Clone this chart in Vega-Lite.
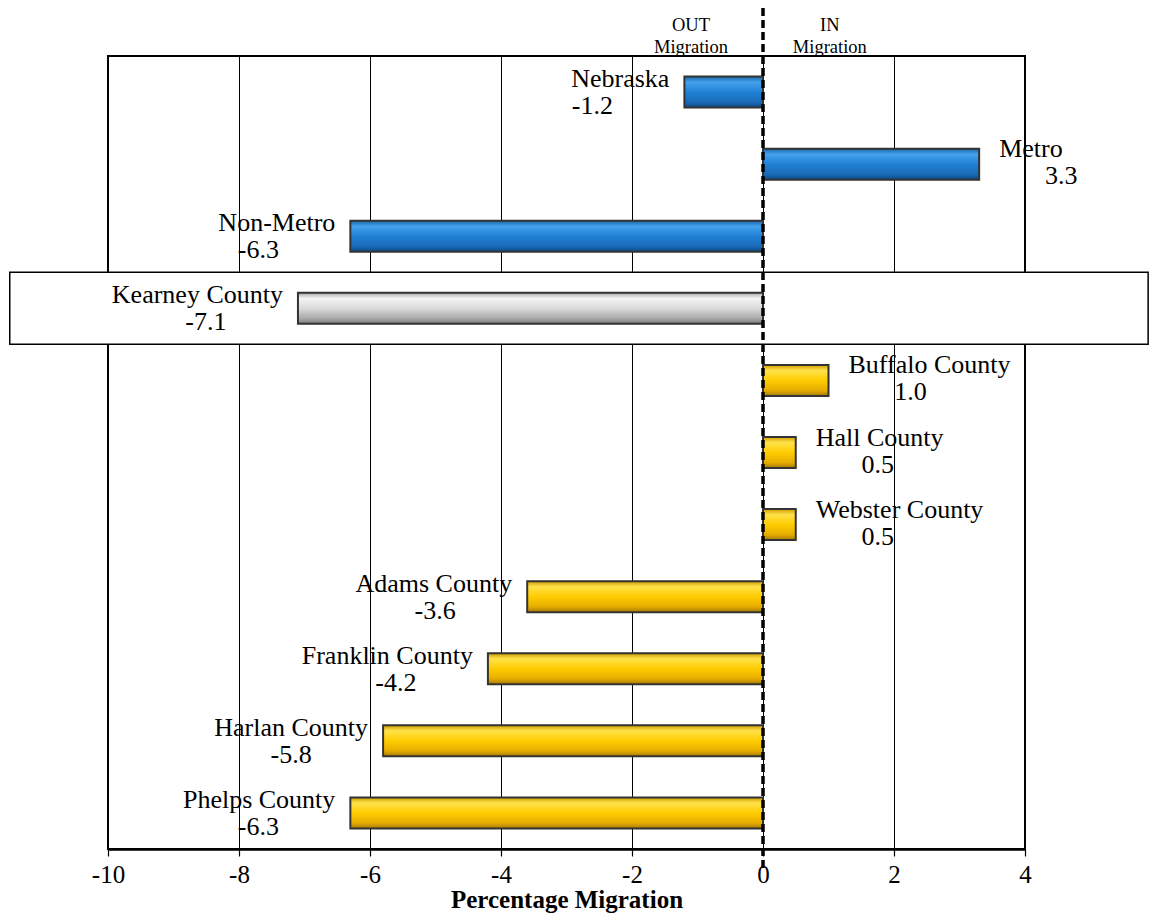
{
  "$schema": "https://vega.github.io/schema/vega-lite/v6.json",
  "width": 917,
  "height": 793,
  "autosize": {"type": "none"},
  "padding": {"left": 108, "top": 56, "right": 124, "bottom": 72},
  "background": "white",
  "config": {
    "view": {"stroke": "black", "strokeWidth": 2},
    "font": "Liberation Serif"
  },
  "data": {
    "values": [
      {"name": "Nebraska", "value": -1.2, "label": "-1.2", "group": "state"},
      {"name": "Metro", "value": 3.3, "label": "3.3", "group": "state"},
      {"name": "Non-Metro", "value": -6.3, "label": "-6.3", "group": "state"},
      {"name": "Kearney County", "value": -7.1, "label": "-7.1", "group": "focus"},
      {"name": "Buffalo County", "value": 1.0, "label": "1.0", "group": "county"},
      {"name": "Hall County", "value": 0.5, "label": "0.5", "group": "county"},
      {"name": "Webster County", "value": 0.5, "label": "0.5", "group": "county"},
      {"name": "Adams County", "value": -3.6, "label": "-3.6", "group": "county"},
      {"name": "Franklin County", "value": -4.2, "label": "-4.2", "group": "county"},
      {"name": "Harlan County", "value": -5.8, "label": "-5.8", "group": "county"},
      {"name": "Phelps County", "value": -6.3, "label": "-6.3", "group": "county"}
    ]
  },
  "layer": [
    {
      "transform": [{"filter": "datum.group === 'focus'"}],
      "mark": {"type": "rect", "fill": "white", "stroke": "black", "strokeWidth": 1.5, "clip": false},
      "encoding": {
        "y": {"field": "name", "type": "nominal", "axis": null,
              "scale": {"domain": ["Nebraska", "Metro", "Non-Metro", "Kearney County", "Buffalo County", "Hall County", "Webster County", "Adams County", "Franklin County", "Harlan County", "Phelps County"],
                        "paddingInner": 0, "paddingOuter": 0}},
        "x": {"datum": -11.5, "type": "quantitative",
              "scale": {"domain": [-10, 4], "nice": false, "zero": false},
              "axis": {"values": [-10, -8, -6, -4, -2, 0, 2, 4], "format": "d",
                       "labelExpr": "replace(format(datum.value, 'd'), '\u2212', '-')",
                       "grid": true, "gridColor": "black", "gridWidth": 1, "gridOpacity": 1,
                       "domainColor": "black", "domainWidth": 2.5,
                       "tickColor": "black", "tickSize": 7, "tickWidth": 1.2,
                       "labelFont": "Liberation Serif", "labelFontSize": 25, "labelColor": "black",
                       "labelPadding": 6, "labelFlush": false,
                       "title": "Percentage Migration", "titleFont": "Liberation Serif",
                       "titleFontSize": 25, "titleFontWeight": "bold", "titleColor": "black",
                       "titlePadding": 0}},
        "x2": {"datum": 5.88}
      }
    },
    {
      "transform": [{"filter": "datum.group === 'state'"}],
      "mark": {"type": "bar", "size": 31, "stroke": "#333333", "strokeWidth": 2,
               "fill": {"gradient": "linear", "x1": 0, "y1": 0, "x2": 0, "y2": 1,
                        "stops": [
                          {"offset": 0, "color": "#1b64a8"},
                          {"offset": 0.18, "color": "#45a2ec"},
                          {"offset": 0.5, "color": "#2181d6"},
                          {"offset": 0.82, "color": "#1a6bb8"},
                          {"offset": 1, "color": "#0e4a85"}]}},
      "encoding": {
        "y": {"field": "name", "type": "nominal"},
        "x": {"field": "value", "type": "quantitative"},
        "x2": {"datum": 0}
      }
    },
    {
      "transform": [{"filter": "datum.group === 'focus'"}],
      "mark": {"type": "bar", "size": 31, "stroke": "#333333", "strokeWidth": 2,
               "fill": {"gradient": "linear", "x1": 0, "y1": 0, "x2": 0, "y2": 1,
                        "stops": [
                          {"offset": 0, "color": "#a8a8a8"},
                          {"offset": 0.18, "color": "#f4f4f4"},
                          {"offset": 0.5, "color": "#dadada"},
                          {"offset": 0.82, "color": "#ababab"},
                          {"offset": 1, "color": "#7c7c7c"}]}},
      "encoding": {
        "y": {"field": "name", "type": "nominal"},
        "x": {"field": "value", "type": "quantitative"},
        "x2": {"datum": 0}
      }
    },
    {
      "transform": [{"filter": "datum.group === 'county'"}],
      "mark": {"type": "bar", "size": 31, "stroke": "#333333", "strokeWidth": 2,
               "fill": {"gradient": "linear", "x1": 0, "y1": 0, "x2": 0, "y2": 1,
                        "stops": [
                          {"offset": 0, "color": "#d09c00"},
                          {"offset": 0.18, "color": "#ffe24a"},
                          {"offset": 0.5, "color": "#ffcc00"},
                          {"offset": 0.82, "color": "#e6ad00"},
                          {"offset": 1, "color": "#a67a00"}]}},
      "encoding": {
        "y": {"field": "name", "type": "nominal"},
        "x": {"field": "value", "type": "quantitative"},
        "x2": {"datum": 0}
      }
    },
    {
      "data": {"values": [{"note": "zero"}]},
      "mark": {"type": "rule", "stroke": "black", "strokeWidth": 3.5, "strokeDash": [8, 4], "clip": false},
      "encoding": {
        "x": {"datum": 0, "type": "quantitative"},
        "y": {"value": -48},
        "y2": {"value": 814}
      }
    },
    {
      "data": {"values": [{"side": "out", "pos": -1.1, "text": "OUT\nMigration"}, {"side": "in", "pos": 1.02, "text": "IN\nMigration"}]},
      "mark": {"type": "text", "fontSize": 18.5, "font": "Liberation Serif", "color": "black",
               "align": "center", "baseline": "middle", "lineBreak": "\n", "lineHeight": 22},
      "encoding": {
        "x": {"field": "pos", "type": "quantitative"},
        "y": {"value": -31},
        "text": {"field": "text"}
      }
    },
    {
      "transform": [{"filter": "datum.value < 0"}],
      "mark": {"type": "text", "fontSize": 26, "font": "Liberation Serif", "color": "black",
               "align": "right", "baseline": "middle", "dx": -15, "dy": -13},
      "encoding": {
        "y": {"field": "name", "type": "nominal"},
        "x": {"field": "value", "type": "quantitative"},
        "text": {"field": "name"}
      }
    },
    {
      "transform": [{"filter": "datum.value < 0"}],
      "mark": {"type": "text", "fontSize": 26, "font": "Liberation Serif", "color": "black",
               "align": "center", "baseline": "middle", "dx": -92, "dy": 14},
      "encoding": {
        "y": {"field": "name", "type": "nominal"},
        "x": {"field": "value", "type": "quantitative"},
        "text": {"field": "label"}
      }
    },
    {
      "transform": [{"filter": "datum.value > 0"}],
      "mark": {"type": "text", "fontSize": 26, "font": "Liberation Serif", "color": "black",
               "align": "left", "baseline": "middle", "dx": 20, "dy": -15},
      "encoding": {
        "y": {"field": "name", "type": "nominal"},
        "x": {"field": "value", "type": "quantitative"},
        "text": {"field": "name"}
      }
    },
    {
      "transform": [{"filter": "datum.value > 0"}],
      "mark": {"type": "text", "fontSize": 26, "font": "Liberation Serif", "color": "black",
               "align": "center", "baseline": "middle", "dx": 82, "dy": 12},
      "encoding": {
        "y": {"field": "name", "type": "nominal"},
        "x": {"field": "value", "type": "quantitative"},
        "text": {"field": "label"}
      }
    }
  ]
}
